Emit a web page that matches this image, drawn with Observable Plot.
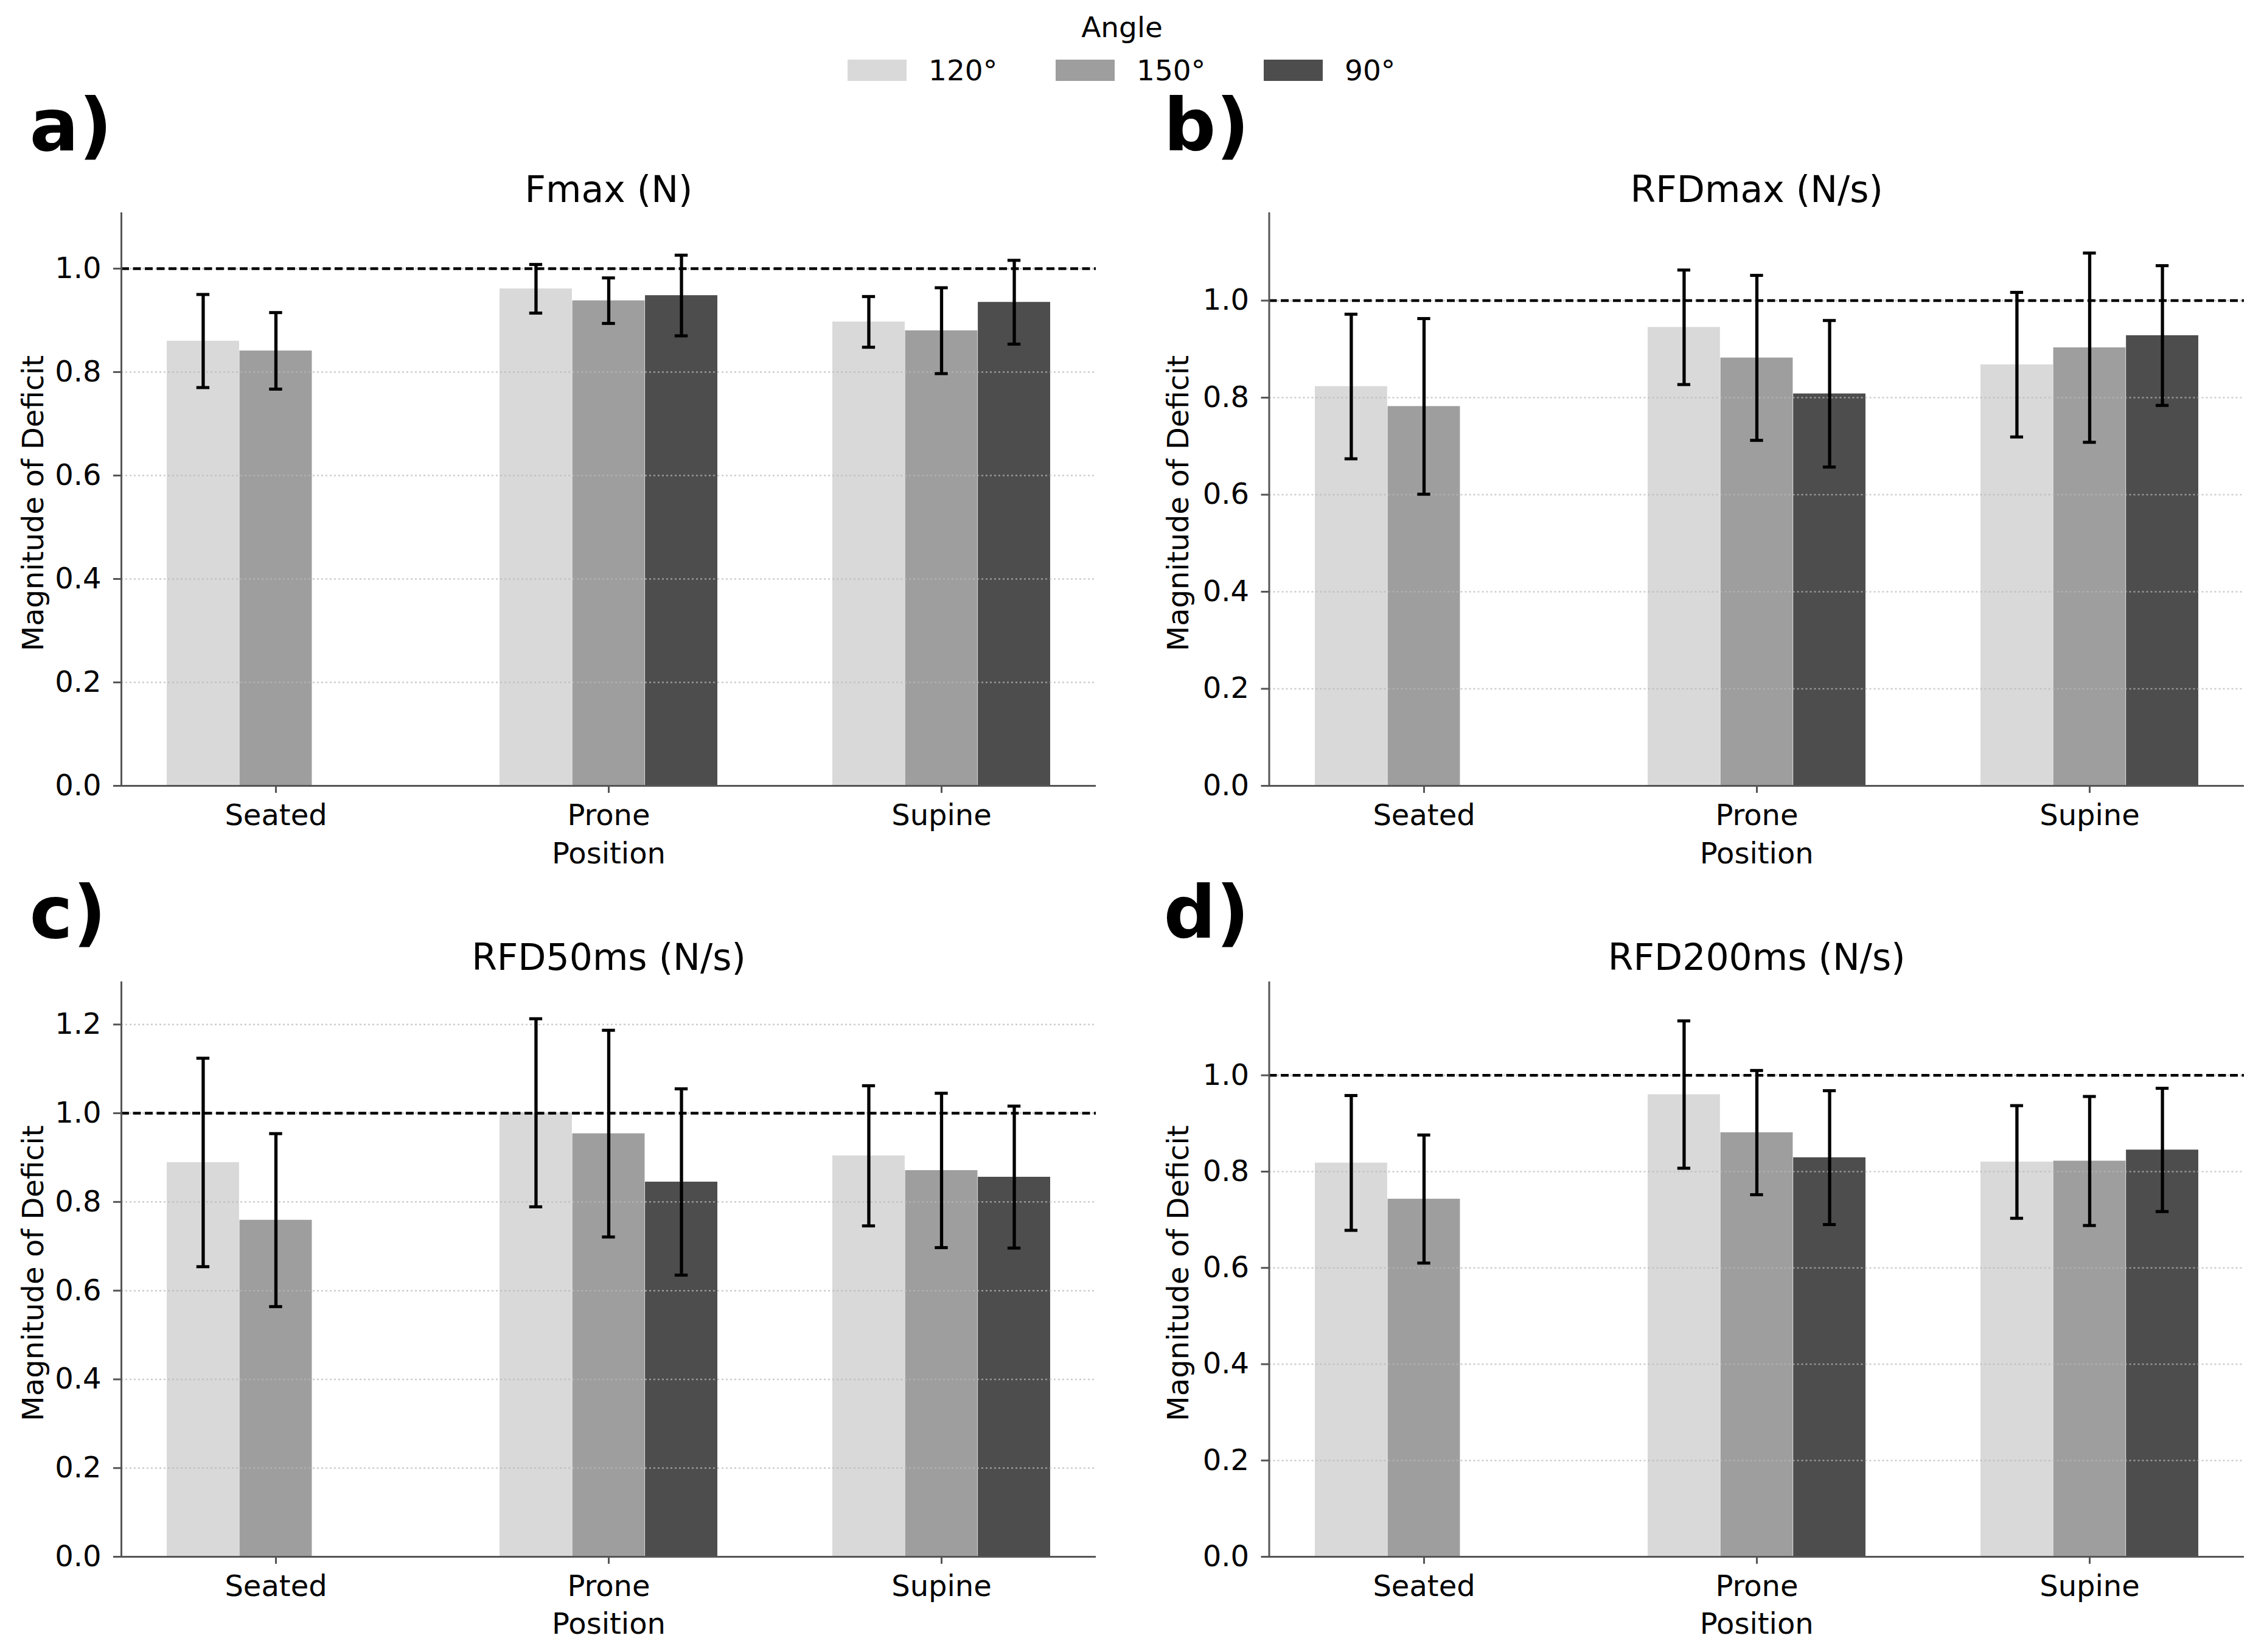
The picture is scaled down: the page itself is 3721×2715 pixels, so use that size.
<!DOCTYPE html>
<html>
<head>
<meta charset="utf-8">
<script src="https://cdn.jsdelivr.net/npm/d3@7"></script>
<script src="https://cdn.jsdelivr.net/npm/@observablehq/plot@0.6"></script>
<style>
  body { margin: 0; background: #fff; }
  #page { position: relative; width: 3721px; height: 2715px; overflow: hidden; background: #fff; font-family: "DejaVu Sans", sans-serif; }
  .panel { position: absolute; }
  .lg { position: absolute; font-size: 47px; line-height: 47px; color: #000; white-space: nowrap; font-family: "DejaVu Sans", sans-serif; }
  .sw { position: absolute; }
</style>
</head>
<body>
<div id="page"></div>
<script>
// ---------------- data ----------------
const positions = ["Seated", "Prone", "Supine"];
const angles = ["120°", "150°", "90°"];
const metricTitles = ["Fmax (N)", "RFDmax (N/s)", "RFD50ms (N/s)", "RFD200ms (N/s)"];
const panelLetters = ["a)", "b)", "c)", "d)"];
const yLabel = "Magnitude of Deficit";
const xLabel = "Position";
const legendTitle = "Angle";
const referenceLevel = 1.0;

// rows: Seated, Prone, Supine ; columns: 120°, 150°, 90°  (null = not measured)
const fmaxMean  = [[0.860, 0.841, null], [0.961, 0.938, 0.948], [0.897, 0.880, 0.935]];
const fmaxSD    = [[0.090, 0.074, null], [0.047, 0.044, 0.078], [0.049, 0.083, 0.081]];
const rfdmaxMean = [[0.823, 0.782, null], [0.945, 0.882, 0.808], [0.868, 0.903, 0.928]];
const rfdmaxSD   = [[0.149, 0.181, null], [0.118, 0.170, 0.151], [0.149, 0.195, 0.144]];
const rfd50Mean = [[0.889, 0.759, null], [1.001, 0.954, 0.845], [0.904, 0.871, 0.856]];
const rfd50SD   = [[0.235, 0.195, null], [0.212, 0.233, 0.210], [0.158, 0.174, 0.160]];
const rfd200Mean = [[0.818, 0.743, null], [0.960, 0.881, 0.829], [0.820, 0.822, 0.845]];
const rfd200SD   = [[0.140, 0.133, null], [0.153, 0.129, 0.139], [0.117, 0.134, 0.128]];

const yMaxes = [1.107, 1.180, 1.295, 1.193];
const yTicks1 = [0.0, 0.2, 0.4, 0.6, 0.8, 1.0];
const yTicks2 = [0.0, 0.2, 0.4, 0.6, 0.8, 1.0, 1.2];
const panelTicks = [yTicks1, yTicks1, yTicks2, yTicks1];

// ---------------- style ----------------
const palette = ["#d9d9d9", "#9e9e9e", "#4d4d4d"];
const spineColor = "#555";

const means = [fmaxMean, rfdmaxMean, rfd50Mean, rfd200Mean];
const sds = [fmaxSD, rfdmaxSD, rfd50SD, rfd200SD];

function rowsFor(p) {
  const out = [];
  positions.forEach((pos, i) => angles.forEach((ang, j) => {
    const m = means[p][i][j];
    if (m != null) out.push({position: pos, angle: ang, mean: m, sd: sds[p][i][j]});
  }));
  return out;
}

// layout of the four panels on the page
const layouts = [
  {left: 0,    top: 140,  width: 1860, height: 1310, mL: 199,   mR: 59, mT: 210, mB: 159, letterDx: -151,   letterDy: -104, titleDy: -19, yLabDx: -129, posDy: 127},
  {left: 1860, top: 140,  width: 1861, height: 1310, mL: 225.5, mR: 33, mT: 210, mB: 159, letterDx: -173.5, letterDy: -104, titleDy: -19, yLabDx: -133, posDy: 127},
  {left: 0,    top: 1450, width: 1860, height: 1265, mL: 199,   mR: 59, mT: 164, mB: 157, letterDx: -151,   letterDy: -74,  titleDy: -21, yLabDx: -129, posDy: 126},
  {left: 1860, top: 1450, width: 1861, height: 1265, mL: 225.5, mR: 33, mT: 164, mB: 157, letterDx: -173.5, letterDy: -74,  titleDy: -21, yLabDx: -133, posDy: 126}
];

const padInner = 0.345, padOuter = 0.1355;
const page = document.getElementById("page");

layouts.forEach((L, p) => {
  const rows = rowsFor(p);
  const innerW = L.width - L.mL - L.mR;
  const step = innerW / (positions.length - padInner + 2 * padOuter);
  const bw = step * (1 - padInner);
  const barW = bw / angles.length;
  const capHalf = 11;

  const marks = [];
  angles.forEach((ang, k) => {
    const sub = rows.filter(d => d.angle === ang);
    marks.push(Plot.barY(sub, {
      x: "position", y: "mean", fill: "angle",
      insetLeft: k * barW, insetRight: (angles.length - 1 - k) * barW
    }));
  });
  // dotted grid
  marks.push(Plot.ruleY(panelTicks[p].filter(t => t > 0), {
    stroke: "#b8b8b8", strokeOpacity: 0.7, strokeWidth: 2.5, strokeDasharray: "3,4"
  }));
  // reference line
  marks.push(Plot.ruleY([referenceLevel], {stroke: "#000", strokeWidth: 4.5, strokeDasharray: "13,6.5"}));
  // error bars
  angles.forEach((ang, k) => {
    const sub = rows.filter(d => d.angle === ang);
    const c = k * barW + barW / 2;
    marks.push(Plot.ruleX(sub, {
      x: "position", y1: d => d.mean - d.sd, y2: d => d.mean + d.sd,
      dx: c - bw / 2, stroke: "#000", strokeWidth: 5.3
    }));
    for (const sign of [-1, 1]) {
      marks.push(Plot.tickY(sub, {
        x: "position", y: d => d.mean + sign * d.sd,
        insetLeft: c - capHalf, insetRight: bw - c - capHalf,
        stroke: "#000", strokeWidth: 5
      }));
    }
  });
  // spines
  marks.push(Plot.ruleY([0], {stroke: spineColor, strokeWidth: 3}));
  marks.push(Plot.frame({anchor: "left", stroke: spineColor, strokeWidth: 3}));
  // axes
  marks.push(Plot.axisX({tickSize: 12, tickPadding: 18, stroke: spineColor, strokeWidth: 3, fill: "#000", label: null}));
  marks.push(Plot.axisY(panelTicks[p], {tickSize: 13, tickPadding: 20, tickFormat: d3.format(".1f"), stroke: spineColor, strokeWidth: 3, fill: "#000", label: null}));
  // texts
  marks.push(Plot.text([metricTitles[p]], {frameAnchor: "top", text: d => d, dy: L.titleDy, lineAnchor: "bottom", fontSize: 60, fill: "#000"}));
  marks.push(Plot.text([panelLetters[p]], {frameAnchor: "top-left", text: d => d, dx: L.letterDx, dy: L.letterDy, lineAnchor: "bottom", textAnchor: "start", fontSize: 120, fontWeight: "bold", fill: "#000"}));
  marks.push(Plot.text([yLabel], {frameAnchor: "left", text: d => d, dx: L.yLabDx, dy: 6, rotate: -90, textAnchor: "middle", lineAnchor: "bottom", fontSize: 48, fill: "#000"}));
  marks.push(Plot.text([xLabel], {frameAnchor: "bottom", text: d => d, dy: L.posDy, lineAnchor: "bottom", fontSize: 48, fill: "#000"}));

  const chart = Plot.plot({
    width: L.width, height: L.height,
    marginLeft: L.mL, marginRight: L.mR, marginTop: L.mT, marginBottom: L.mB,
    style: {fontFamily: "DejaVu Sans", fontSize: "48px", color: "#000", background: "transparent", overflow: "visible"},
    x: {type: "band", domain: positions, paddingInner: padInner, paddingOuter: padOuter, align: 0.5},
    y: {domain: [0, yMaxes[p]]},
    color: {domain: angles, range: palette},
    marks
  });
  const wrap = document.createElement("div");
  wrap.className = "panel";
  wrap.style.left = L.left + "px";
  wrap.style.top = L.top + "px";
  wrap.appendChild(chart);
  page.appendChild(wrap);
});

// ---------------- legend ----------------
const lt = document.createElement("div");
lt.className = "lg";
lt.textContent = legendTitle;
lt.style.left = "1844px";
lt.style.top = "21px";
lt.style.transform = "translateX(-50%)";
page.appendChild(lt);
const legendStart = 1393, legendPitch = 342;
angles.forEach((ang, k) => {
  const sw = document.createElement("div");
  sw.className = "sw";
  sw.style.left = (legendStart + k * legendPitch) + "px";
  sw.style.top = "98px";
  sw.style.width = "97px";
  sw.style.height = "35px";
  sw.style.background = palette[k];
  page.appendChild(sw);
  const tx = document.createElement("div");
  tx.className = "lg";
  tx.textContent = ang;
  tx.style.left = (legendStart + k * legendPitch + 133) + "px";
  tx.style.top = "92px";
  page.appendChild(tx);
});
</script>
</body>
</html>
